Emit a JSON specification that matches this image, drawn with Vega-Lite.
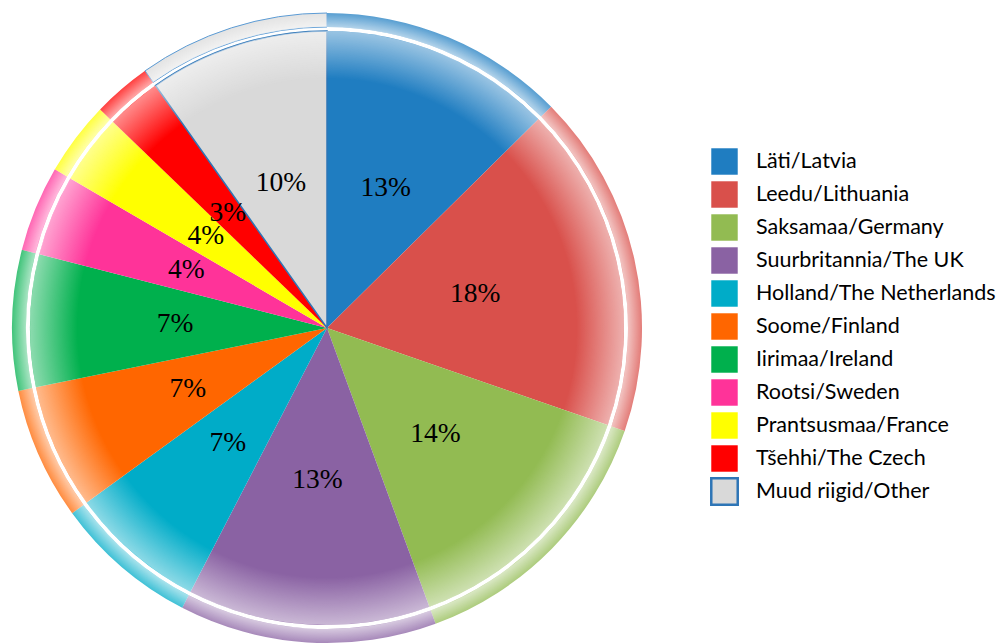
{
  "$schema": "https://vega.github.io/schema/vega-lite/v6.json",
  "width": 654,
  "height": 632,
  "autosize": "none",
  "padding": {"left": 0, "top": 12, "right": 347, "bottom": 0},
  "background": "white",
  "data": {
    "values": [
      {"i": 1, "country": "Läti/Latvia", "share": 12.6, "label": "13%"},
      {"i": 2, "country": "Leedu/Lithuania", "share": 17.7, "label": "18%"},
      {"i": 3, "country": "Saksamaa/Germany", "share": 14.1, "label": "14%"},
      {"i": 4, "country": "Suurbritannia/The UK", "share": 13.2, "label": "13%"},
      {"i": 5, "country": "Holland/The Netherlands", "share": 7.4, "label": "7%"},
      {"i": 6, "country": "Soome/Finland", "share": 6.8, "label": "7%"},
      {"i": 7, "country": "Iirimaa/Ireland", "share": 7.2, "label": "7%"},
      {"i": 8, "country": "Rootsi/Sweden", "share": 4.4, "label": "4%"},
      {"i": 9, "country": "Prantsusmaa/France", "share": 3.8, "label": "4%"},
      {"i": 10, "country": "Tšehhi/The Czech", "share": 3.0, "label": "3%"},
      {"i": 11, "country": "Muud riigid/Other", "share": 9.8, "label": "10%"}
    ]
  },
  "encoding": {
    "theta": {"field": "share", "type": "quantitative", "stack": true},
    "order": {"field": "i", "type": "quantitative"},
    "color": {
      "field": "country",
      "type": "nominal",
      "scale": {
        "domain": ["Läti/Latvia", "Leedu/Lithuania", "Saksamaa/Germany", "Suurbritannia/The UK", "Holland/The Netherlands", "Soome/Finland", "Iirimaa/Ireland", "Rootsi/Sweden", "Prantsusmaa/France", "Tšehhi/The Czech", "Muud riigid/Other"],
        "range": ["#1f7dc1", "#d9504b", "#92bb52", "#8a62a3", "#00acc8", "#ff6600", "#00b04d", "#ff3399", "#ffff00", "#ff0000", "#d9d9d9"]
      },
      "legend": {
        "title": null,
        "orient": "none",
        "legendX": 710,
        "legendY": 135,
        "symbolType": "square",
        "symbolSize": 700,
        "symbolOpacity": 1,
        "symbolStrokeWidth": 2.5,
        "symbolStrokeColor": "transparent",
        "labelFont": "Lato",
        "labelFontSize": 21.5,
        "labelColor": "#000000",
        "labelOffset": 17,
        "rowPadding": -4,
        "labelLimit": 400,
        "encode": {
          "symbols": {
            "enter": {
              "stroke": {"signal": "datum.value === 'Muud riigid/Other' ? '#2e75b6' : 'transparent'"}
            },
            "update": {
              "stroke": {"signal": "datum.value === 'Muud riigid/Other' ? '#2e75b6' : 'transparent'"},
              "strokeWidth": {"value": 2.5},
              "opacity": {"value": 1}
            }
          }
        }
      }
    }
  },
  "layer": [
    {
      "mark": {"type": "arc", "outerRadius": 315, "innerRadius": 301, "fillOpacity": 0.75},
      "encoding": {
        "stroke": {"condition": {"test": "datum.country === 'Muud riigid/Other'", "value": "#5b9bd5"}, "value": null},
        "strokeWidth": {"value": 1}
      }
    },
    {
      "mark": {"type": "arc", "outerRadius": 297},
      "encoding": {
        "stroke": {"condition": {"test": "datum.country === 'Muud riigid/Other'", "value": "#2e75b6"}, "value": null},
        "strokeWidth": {"value": 1.5}
      }
    },
    {
      "data": {"values": [{"ring": "glow"}]},
      "mark": {
        "type": "arc",
        "theta": 0,
        "theta2": 6.2832,
        "outerRadius": 297,
        "innerRadius": 230,
        "color": {
          "gradient": "radial",
          "x1": 0.5, "y1": 0.5, "r1": 0,
          "x2": 0.5, "y2": 0.5, "r2": 0.5,
          "stops": [
            {"offset": 0, "color": "rgba(255,255,255,0)"},
            {"offset": 0.84, "color": "rgba(255,255,255,0)"},
            {"offset": 1, "color": "rgba(255,255,255,0.55)"}
          ]
        }
      },
      "encoding": {"theta": null, "order": null, "color": null}
    },
    {
      "data": {"values": [{"ring": "outer"}]},
      "mark": {
        "type": "arc",
        "theta": 0,
        "theta2": 6.2832,
        "outerRadius": 315,
        "innerRadius": 301,
        "color": {
          "gradient": "radial",
          "x1": 0.5, "y1": 0.5, "r1": 0,
          "x2": 0.5, "y2": 0.5, "r2": 0.5,
          "stops": [
            {"offset": 0, "color": "rgba(255,255,255,0)"},
            {"offset": 0.955, "color": "rgba(255,255,255,0.55)"},
            {"offset": 1, "color": "rgba(255,255,255,0)"}
          ]
        }
      },
      "encoding": {"theta": null, "order": null, "color": null}
    },
    {
      "mark": {"type": "text", "radius": 152, "font": "Liberation Serif", "fontSize": 27.5, "color": "#000000"},
      "encoding": {
        "text": {"field": "label"},
        "color": {"value": "#000000"}
      }
    }
  ]
}
